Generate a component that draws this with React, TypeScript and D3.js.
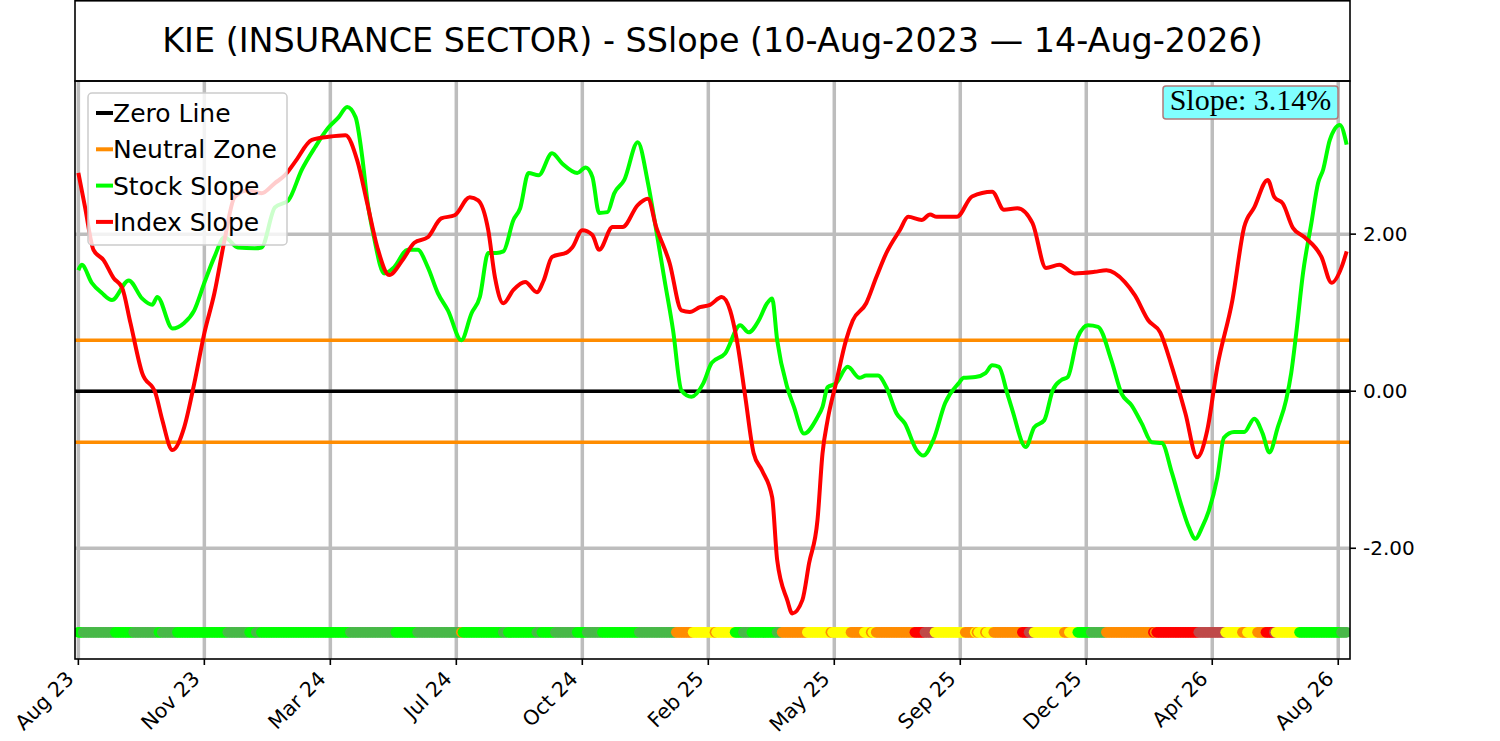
import { useEffect, useRef } from "react"
import * as d3 from "d3"

const title = "KIE (INSURANCE SECTOR) - SSlope (10-Aug-2023 — 14-Aug-2026)"

// x axis is a trading-day index, labelled every 75 sessions
const tickLabels = ["Aug 23", "Nov 23", "Mar 24", "Jul 24", "Oct 24", "Feb 25", "May 25", "Sep 25", "Dec 25", "Apr 26", "Aug 26"]
const tickStep = 75
const lastDay = 755

const yTicks = [-2, 0, 2]
const neutralZone = 0.65
const currentSlope = 3.14

// stock slope
const stockDays = [0, 2, 8, 14, 20, 30, 38, 44, 47, 56, 63, 69, 75, 81, 87, 95, 105, 109, 117, 125, 133, 141, 149, 155, 160, 165, 169, 172, 176, 182, 188, 196, 202, 208, 214, 220, 228, 234, 239, 244, 249, 253, 259, 263, 268, 274, 282, 288, 297, 302, 306, 310, 315, 319, 325, 333, 339, 344, 349, 354, 359, 365, 372, 377, 385, 394, 399, 405, 410, 413, 416, 422, 426, 432, 440, 443, 446, 451, 458, 465, 469, 476, 481, 487, 492, 499, 503, 509, 516, 524, 527, 534, 540, 544, 548, 553, 556, 564, 569, 575, 580, 585, 589, 595, 601, 607, 615, 621, 627, 633, 639, 645, 651, 657, 661, 665, 669, 673, 678, 682, 688, 694, 700, 705, 709, 714, 719, 722, 725, 729, 734, 738, 741, 745, 751, 755]
const stockSlope = [1.54, 1.61, 1.38, 1.25, 1.16, 1.41, 1.18, 1.1, 1.2, 0.8, 0.87, 1.03, 1.38, 1.71, 1.96, 1.83, 1.82, 1.83, 2.34, 2.43, 2.82, 3.11, 3.36, 3.49, 3.62, 3.49, 2.98, 2.43, 1.96, 1.5, 1.58, 1.8, 1.8, 1.58, 1.25, 1.03, 0.65, 0.99, 1.2, 1.76, 1.76, 1.78, 2.18, 2.33, 2.78, 2.75, 3.03, 2.9, 2.78, 2.85, 2.73, 2.27, 2.28, 2.52, 2.69, 3.17, 2.66, 2.05, 1.41, 0.78, 0.01, -0.07, 0.1, 0.36, 0.48, 0.84, 0.75, 0.9, 1.12, 1.18, 0.65, 0.05, -0.2, -0.54, -0.33, -0.2, 0.05, 0.1, 0.31, 0.17, 0.2, 0.2, 0.05, -0.28, -0.41, -0.75, -0.82, -0.62, -0.15, 0.1, 0.17, 0.18, 0.23, 0.33, 0.31, -0.03, -0.24, -0.71, -0.46, -0.37, 0.01, 0.14, 0.18, 0.69, 0.84, 0.82, 0.39, -0.03, -0.18, -0.41, -0.65, -0.66, -1.04, -1.48, -1.73, -1.88, -1.73, -1.52, -1.1, -0.59, -0.52, -0.52, -0.35, -0.54, -0.78, -0.46, -0.11, 0.23, 0.74, 1.5, 2.14, 2.65, 2.82, 3.2, 3.39, 3.14]

// index slope
const indexDays = [0, 4, 9, 15, 21, 26, 31, 38, 46, 50, 56, 63, 69, 75, 81, 87, 93, 101, 109, 117, 123, 129, 139, 149, 159, 166, 172, 178, 185, 193, 200, 208, 216, 224, 233, 238, 244, 248, 253, 259, 266, 273, 277, 282, 291, 294, 300, 306, 310, 318, 324, 333, 339, 344, 352, 359, 364, 370, 376, 383, 388, 392, 397, 402, 407, 413, 416, 422, 425, 431, 435, 440, 443, 446, 451, 457, 461, 469, 475, 481, 489, 494, 502, 507, 511, 523, 532, 544, 551, 559, 568, 576, 584, 593, 605, 612, 623, 629, 637, 644, 651, 659, 666, 672, 678, 687, 694, 700, 708, 712, 717, 723, 730, 740, 746, 752, 755]
const indexSlope = [2.78, 2.34, 1.8, 1.67, 1.44, 1.32, 0.87, 0.23, -0.03, -0.37, -0.75, -0.46, 0.1, 0.74, 1.25, 1.92, 2.47, 2.56, 2.52, 2.65, 2.75, 2.92, 3.2, 3.24, 3.26, 2.94, 2.39, 1.83, 1.48, 1.67, 1.89, 1.96, 2.2, 2.24, 2.47, 2.43, 2.05, 1.45, 1.12, 1.29, 1.39, 1.26, 1.41, 1.71, 1.77, 1.83, 2.05, 1.99, 1.8, 2.09, 2.09, 2.37, 2.45, 2.09, 1.63, 1.03, 1.01, 1.07, 1.1, 1.2, 1.03, 0.65, -0.07, -0.79, -1.01, -1.35, -2.15, -2.66, -2.83, -2.66, -2.19, -1.64, -0.79, -0.37, 0.1, 0.65, 0.9, 1.12, 1.45, 1.76, 2.05, 2.22, 2.18, 2.25, 2.22, 2.22, 2.48, 2.54, 2.31, 2.33, 2.14, 1.57, 1.61, 1.5, 1.52, 1.54, 1.39, 1.22, 0.9, 0.75, 0.31, -0.28, -0.84, -0.5, 0.31, 1.16, 2.09, 2.34, 2.69, 2.47, 2.39, 2.08, 1.96, 1.71, 1.38, 1.58, 1.78]

// daily state strip: first day of each run and its state
const stateStart = [0, 3, 22, 33, 48, 50, 59, 89, 102, 106, 109, 162, 189, 202, 228, 229, 253, 256, 273, 276, 284, 297, 303, 312, 334, 356, 366, 379, 380, 391, 396, 401, 416, 419, 434, 448, 449, 460, 468, 472, 473, 475, 498, 504, 510, 528, 534, 535, 536, 540, 541, 545, 562, 566, 569, 587, 590, 595, 603, 612, 640, 641, 642, 667, 683, 693, 696, 702, 707, 712, 713, 727, 752]
const stateName = ["up", "fade", "up", "fade", "up", "fade", "up", "fade", "up", "fade", "up", "fade", "up", "fade", "neutral", "up", "fade", "up", "fade", "up", "fade", "up", "fade", "up", "fade", "neutral", "rising", "neutral", "rising", "up", "fade", "up", "fade", "neutral", "rising", "neutral", "rising", "neutral", "rising", "neutral", "rising", "neutral", "down", "recover", "rising", "neutral", "rising", "neutral", "rising", "neutral", "rising", "neutral", "down", "recover", "rising", "neutral", "rising", "up", "fade", "neutral", "down", "neutral", "down", "recover", "rising", "neutral", "rising", "neutral", "down", "recover", "rising", "up", "fade"]

const stateColor: Record<string, string> = {
  up: "#00ff00",
  fade: "#48b848",
  neutral: "#ff8c00",
  rising: "#ffff00",
  down: "#ff0000",
  recover: "#bf4949",
}

const sans = "DejaVu Sans, sans-serif"

export default function App() {
  const svgRef = useRef<SVGSVGElement>(null)

  useEffect(() => {
    if (!svgRef.current) return
    const svg = d3.select(svgRef.current)
    svg.selectAll("*").remove()

    const left = 75
    const right = 1350
    const top = 81
    const bottom = 659

    const x = d3.scaleLinear().domain([-2, 757]).range([left, right])
    const y = d3.scaleLinear().domain([-3.41, 3.95]).range([bottom, top])

    svg.append("rect").attr("width", 1500).attr("height", 741).attr("fill", "#fff")

    svg.append("clipPath").attr("id", "plot").append("rect")
      .attr("x", left).attr("y", top).attr("width", right - left).attr("height", bottom - top)

    const g = svg.append("g").attr("clip-path", "url(#plot)")

    // grid
    const xTicks = tickLabels.map((_, i) => i * tickStep)
    xTicks.forEach(t => {
      g.append("line")
        .attr("x1", x(t)).attr("x2", x(t)).attr("y1", top).attr("y2", bottom)
        .style("stroke", "#bdbdbd").style("stroke-width", 3.5)
    })
    yTicks.forEach(t => {
      g.append("line")
        .attr("x1", left).attr("x2", right).attr("y1", y(t)).attr("y2", y(t))
        .style("stroke", "#bdbdbd").style("stroke-width", 3.5)
    })

    // neutral zone and zero line
    ;[neutralZone, -neutralZone].forEach(v => {
      g.append("line")
        .attr("x1", left).attr("x2", right).attr("y1", y(v)).attr("y2", y(v))
        .style("stroke", "#ff8c00").style("stroke-width", 3.5)
    })
    g.append("line")
      .attr("x1", left).attr("x2", right).attr("y1", y(0)).attr("y2", y(0))
      .style("stroke", "#000").style("stroke-width", 3.5)

    // slope lines
    const drawLine = (days: number[], values: number[], color: string) => {
      const line = d3.line<number>()
        .x((_, i) => x(days[i]))
        .y(d => y(d))
        .curve(d3.curveMonotoneX)
      g.append("path")
        .datum(values)
        .attr("d", line)
        .style("fill", "none")
        .style("stroke", color)
        .style("stroke-width", 4)
        .style("stroke-linejoin", "round")
    }
    drawLine(stockDays, stockSlope, "#00ff00")
    drawLine(indexDays, indexSlope, "#ff0000")

    // state strip
    const stripLevel = -3.07
    const days = d3.range(0, lastDay + 1)
    const stateAt = (d: number) => stateName[d3.bisectRight(stateStart, d) - 1]
    g.selectAll("circle.state")
      .data(days)
      .join("circle")
      .attr("class", "state")
      .attr("cx", d => x(d))
      .attr("cy", y(stripLevel))
      .attr("r", 5.4)
      .style("fill", d => stateColor[stateAt(d)])

    // spines
    svg.append("rect")
      .attr("x", left).attr("y", top).attr("width", right - left).attr("height", bottom - top)
      .style("fill", "none").style("stroke", "#000").style("stroke-width", 1.6)

    // title box
    svg.append("rect")
      .attr("x", left).attr("y", 0.8).attr("width", right - left).attr("height", top - 0.8)
      .style("fill", "none").style("stroke", "#000").style("stroke-width", 1.6)
    svg.append("text")
      .attr("x", (left + right) / 2).attr("y", 52)
      .attr("text-anchor", "middle")
      .style("font-family", sans).style("font-size", "33.4px")
      .text(title)

    // x ticks
    xTicks.forEach((t, i) => {
      svg.append("line")
        .attr("x1", x(t)).attr("x2", x(t)).attr("y1", bottom).attr("y2", bottom + 6)
        .style("stroke", "#000").style("stroke-width", 1.6)
      svg.append("text")
        .attr("transform", `translate(${x(t) - 3.3}, 680) rotate(-45)`)
        .attr("text-anchor", "end")
        .style("font-family", sans).style("font-size", "20.5px")
        .text(tickLabels[i])
    })

    // right y ticks
    yTicks.forEach(t => {
      svg.append("line")
        .attr("x1", right).attr("x2", right + 6).attr("y1", y(t)).attr("y2", y(t))
        .style("stroke", "#000").style("stroke-width", 1.6)
      svg.append("text")
        .attr("x", right + 13).attr("y", y(t)).attr("dy", "0.36em")
        .style("font-family", sans).style("font-size", "20px")
        .text(t.toFixed(2))
    })

    // legend
    const legend = svg.append("g")
    legend.append("rect")
      .attr("x", 88).attr("y", 93).attr("width", 199).attr("height", 152).attr("rx", 4)
      .style("fill", "#fff").style("fill-opacity", 0.8)
      .style("stroke", "#cccccc").style("stroke-width", 1.5)
    const items = [
      { label: "Zero Line", color: "#000" },
      { label: "Neutral Zone", color: "#ff8c00" },
      { label: "Stock Slope", color: "#00ff00" },
      { label: "Index Slope", color: "#ff0000" },
    ]
    items.forEach((item, i) => {
      const cy = 113 + i * 36.3
      legend.append("line")
        .attr("x1", 96).attr("x2", 113).attr("y1", cy).attr("y2", cy)
        .style("stroke", item.color).style("stroke-width", 4)
      legend.append("text")
        .attr("x", 113).attr("y", cy + 9)
        .style("font-family", sans).style("font-size", "25px")
        .text(item.label)
    })

    // current slope badge
    svg.append("rect")
      .attr("x", 1163).attr("y", 86).attr("width", 175).attr("height", 33).attr("rx", 3)
      .style("fill", "#80ffff").style("stroke", "#b07878").style("stroke-width", 1.5)
    svg.append("text")
      .attr("x", 1250.5).attr("y", 109.5)
      .attr("text-anchor", "middle")
      .style("font-family", "Liberation Serif, serif").style("font-size", "30px")
      .text(`Slope: ${currentSlope.toFixed(2)}%`)
  }, [])

  return (
    <svg
      ref={svgRef}
      width={1500}
      height={741}
      style={{ position: "absolute", left: 0, top: 0, display: "block" }}
    />
  )
}
